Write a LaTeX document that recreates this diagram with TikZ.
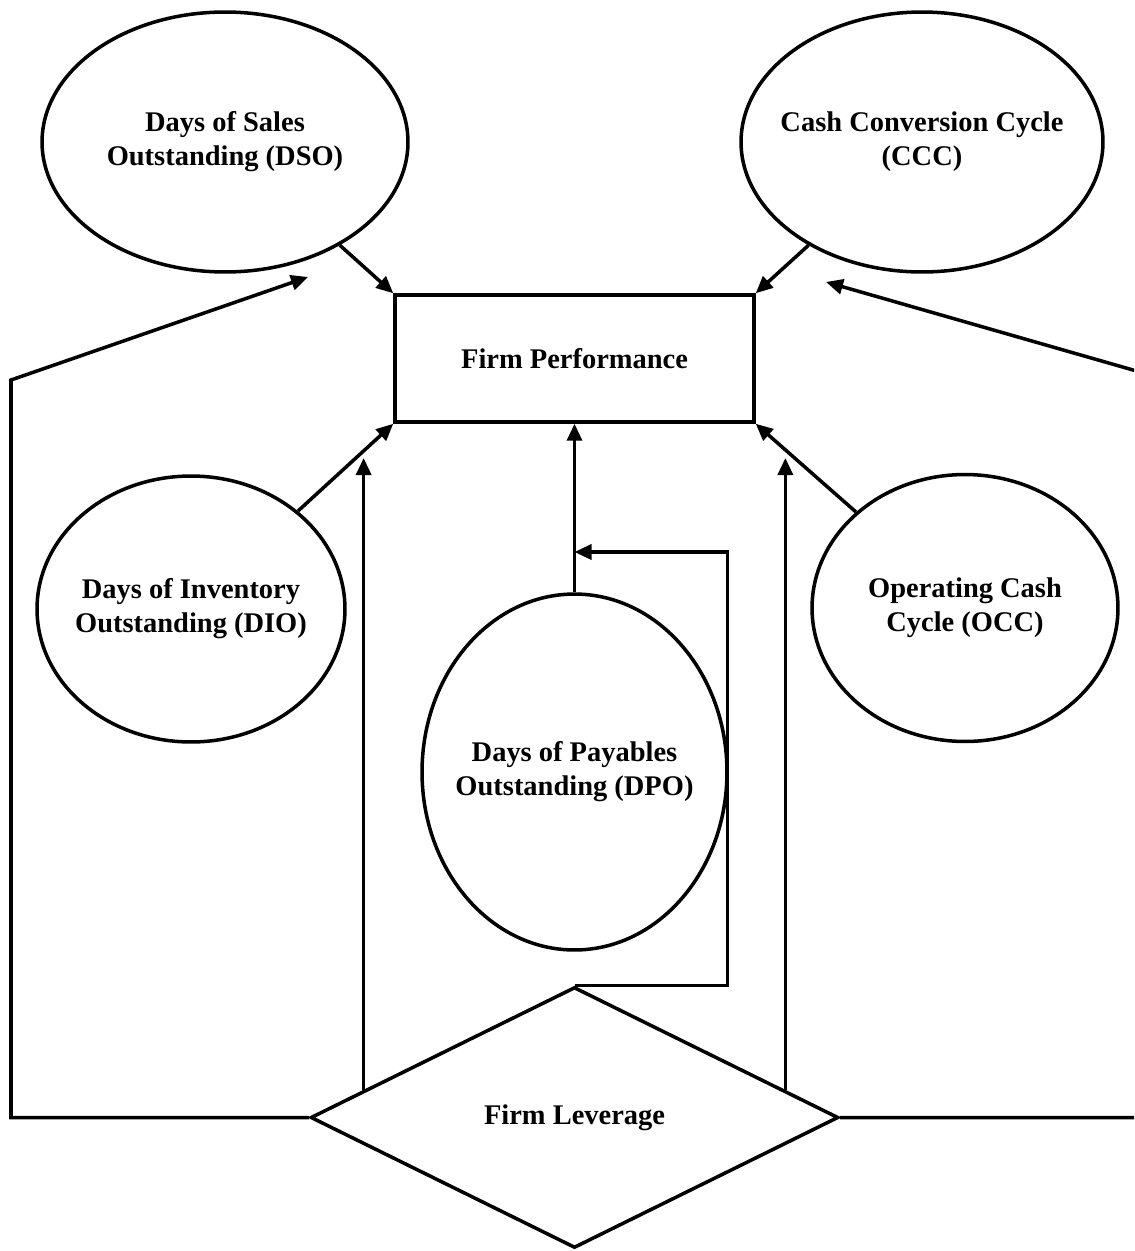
\documentclass[tikz,border=0pt]{standalone}
\usepackage{fontspec}
\setmainfont{Liberation Serif}
\usetikzlibrary{shapes.geometric,arrows.meta,calc}

\def\px{0.02cm}

\begin{document}
\begin{tikzpicture}[x=\px, y=-\px, line width=2pt,
    every node/.style={font=\bfseries\fontsize{16.2}{19.4}\selectfont, align=center},
    oval/.style={draw, ellipse, inner xsep=-0.4cm, inner ysep=0pt},
    box/.style={draw, rectangle, minimum width=7.18cm, minimum height=2.54cm},
    lever/.style={draw, diamond, minimum width=10.56cm, minimum height=5.22cm, inner sep=0pt},
    arr/.style={-{Triangle[length=0.34cm, width=0.3cm]}}]
      \useasboundingbox (0,0) rectangle (1134,1251);
      \clip (0,0) rectangle (1134,1251);
      \node[oval, minimum width=7.32cm, minimum height=5.2cm] (dso) at (225,142) {Days of Sales\\Outstanding (DSO)};
      \node[oval, minimum width=7.24cm, minimum height=5.2cm] (ccc) at (922,142) {Cash Conversion Cycle\\(CCC)};
      \node[box] (fp) at (574.5,358.5) {Firm Performance};
      \node[oval, minimum width=6.16cm, minimum height=5.32cm] (dio) at (191,609) {Days of Inventory\\Outstanding (DIO)};
      \node[oval, minimum width=6.12cm, minimum height=5.34cm] (occ) at (965,608) {Operating Cash\\Cycle (OCC)};
      \node[oval, minimum width=6.1cm, minimum height=7.12cm] (dpo) at (574.5,772) {Days of Payables\\Outstanding (DPO)};
      \node[lever] (lev) at (574.5,1117.5) {Firm Leverage};
      \coordinate (dsoCut) at (308,277);
      \coordinate (cccCut) at (826,282);
      \coordinate (dioCut) at (365,458);
      \coordinate (occCut) at (784,458);
      \coordinate (dpoCut) at (574.5,552);
      \coordinate (levL) at ($(lev.west)!0.2064!(lev.north)$);
      \coordinate (levR) at ($(lev.east)!0.2064!(lev.north)$);
      \draw[arr] (dso) -- (fp.north west);
      \draw[arr] (ccc) -- (fp.north east);
      \draw[arr] (dio) -- (fp.south west);
      \draw[arr] (occ) -- (fp.south east);
      \draw[arr] (dpo) -- (fp);
      \draw[arr] (lev.west) -| (11,380) -- (dsoCut);
      \draw[arr] (lev.east) -| (1140,372) -- (cccCut);
      \draw[arr] (levL) -- (levL |- dioCut);
      \draw[arr] (levR) -- (levR |- occCut);
      \draw[arr] (lev.north) -- ++(153,0) |- (dpoCut);
\end{tikzpicture}
\end{document}
